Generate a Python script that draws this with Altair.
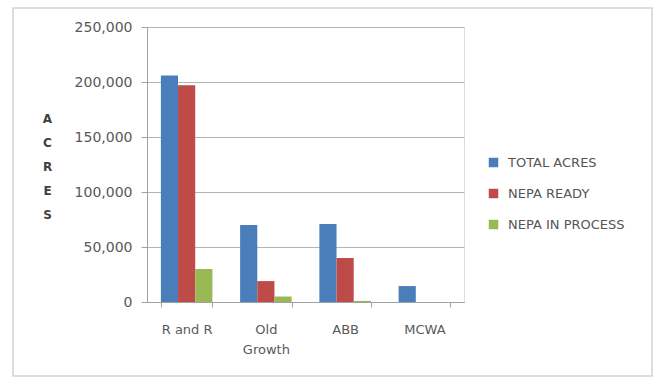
import altair as alt
import pandas as pd

categories = ["R and R", "Old Growth", "ABB", "MCWA"]
series = ["TOTAL ACRES", "NEPA READY", "NEPA IN PROCESS"]
total_acres = [206000, 70000, 71000, 14500]
nepa_ready = [197000, 19000, 40000, 0]
nepa_in_process = [30000, 5000, 1000, 0]
colors = ["#4a7ebb", "#be4b48", "#98b954"]

rows = []
for i, c in enumerate(categories):
    for s, vals in zip(series, [total_acres, nepa_ready, nepa_in_process]):
        rows.append({"category": c, "series": s, "value": vals[i]})
df = pd.DataFrame(rows)

W, H = 317, 275
PL, PT = 147, 27
FONT = "DejaVu Sans"

bars = alt.Chart(df).mark_bar().encode(
    x=alt.X("category:N", sort=categories,
            scale=alt.Scale(paddingInner=0.35, paddingOuter=0.175),
            axis=alt.Axis(title=None, labelAngle=0, tickBand="extent",
                          labelExpr="datum.value == 'Old Growth' ? ['Old', 'Growth'] : datum.value",
                          labelFont=FONT, labelFontSize=13, labelColor="#595959",
                          labelPadding=22, labelLineHeight=20, labelBaseline="middle",
                          tickSize=5, tickColor="#a0a0a0", domainColor="#a0a0a0", grid=False)),
    xOffset=alt.XOffset("series:N", sort=series),
    y=alt.Y("value:Q", scale=alt.Scale(domain=[0, 250000]),
            axis=alt.Axis(values=[0, 50000, 100000, 150000, 200000, 250000], format=",d",
                          title=["A", "C", "R", "E", "S"], titleAngle=0, titleFont=FONT,
                          titleFontSize=12, titleFontWeight="bold", titleColor="#404040",
                          titleLineHeight=24, titleX=-100, titleY=91, titleAlign="center",
                          titleBaseline="middle",
                          labelFont=FONT, labelFontSize=14, labelColor="#595959",
                          tickSize=6, labelPadding=9, tickColor="#a0a0a0", domainColor="#a0a0a0",
                          gridColor="#b4b4b4")),
    color=alt.Color("series:N", sort=series,
                    scale=alt.Scale(domain=series, range=colors),
                    legend=alt.Legend(title=None, orient="none", legendX=340, legendY=129,
                                      symbolType="square", symbolSize=90, symbolStrokeWidth=0,
                                      labelFont=FONT, labelFontSize=13, labelColor="#555555",
                                      rowPadding=17, labelOffset=8)),
)

border = alt.Chart(pd.DataFrame({"a": [0]})).mark_rect(
    fill=None, stroke="#d4d4d4", strokeWidth=1.5, clip=False
).encode(
    x=alt.value(13 - PL), x2=alt.value(652 - PL),
    y=alt.value(8 - PT), y2=alt.value(376 - PT),
)

chart = alt.layer(border, bars).properties(
    width=W, height=H,
    padding={"left": PL, "top": PT, "right": 653 - PL - W, "bottom": 377 - PT - H},
    autosize=alt.AutoSizeParams(type="none"),
).configure_view(stroke="#808080", strokeWidth=1.2).configure(background="white")

chart.save("out.html", embed_options={"renderer": "svg", "actions": False})
